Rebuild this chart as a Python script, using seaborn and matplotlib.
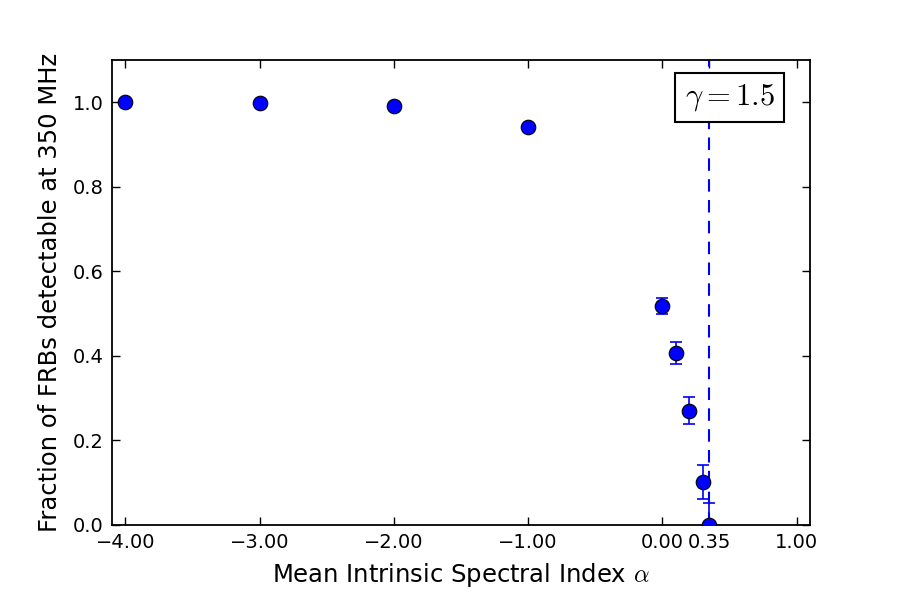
import matplotlib
matplotlib.use("Agg")
import matplotlib.pyplot as plt
import seaborn as sns
import pandas as pd

alpha = [-4.0, -3.0, -2.0, -1.0, 0.0, 0.1, 0.2, 0.3, 0.35]
fraction = [1.0, 0.998, 0.992, 0.941, 0.518, 0.406, 0.270, 0.102, 0.0]
err = [0.0, 0.0, 0.0, 0.0, 0.020, 0.026, 0.032, 0.040, 0.051]
xticks = [-4.0, -3.0, -2.0, -1.0, 0.0, 0.35, 1.0]
xticklabels = ["\u22124.00", "\u22123.00", "\u22122.00", "\u22121.00", "0.00", "0.35", "1.00"]
yticks = [0.0, 0.2, 0.4, 0.6, 0.8, 1.0]
alpha_max = 0.35

sns.set_style("ticks")
plt.rcParams['font.family'] = ['DejaVu Sans']
plt.rcParams['mathtext.fontset'] = 'cm'
plt.rcParams['text.color'] = 'black'
plt.rcParams['axes.labelcolor'] = 'black'
plt.rcParams['xtick.color'] = 'black'
plt.rcParams['ytick.color'] = 'black'

df = pd.DataFrame({"alpha": alpha, "fraction": fraction, "err": err})

fig = plt.figure(figsize=(9, 6), dpi=100)
ax = fig.add_axes([0.1245, 0.125, 0.7755, 0.775])

ax.errorbar(df["alpha"], df["fraction"], yerr=df["err"], fmt="none",
            ecolor="blue", elinewidth=1.2, capsize=4.5, capthick=1.2, zorder=2)
sns.scatterplot(data=df, x="alpha", y="fraction", ax=ax, s=110, color="blue",
                edgecolor="black", linewidth=0.8, zorder=3)
ax.axvline(alpha_max, color="blue", linestyle=(0, (6, 4)), linewidth=1.5, zorder=1)

ax.set_xlim(-4.1, 1.1)
ax.set_ylim(0.0, 1.1)
ax.set_xticks(xticks)
ax.set_xticklabels(xticklabels)
ax.set_yticks(yticks)
ax.set_yticklabels([f"{v:.1f}" for v in yticks])
ax.tick_params(direction="in", top=True, right=True, length=6, width=1,
               labelsize=14, pad=6, colors="black")
for sp in ax.spines.values():
    sp.set_linewidth(1.3)
    sp.set_color("black")

ax.set_xlabel(r"Mean Intrinsic Spectral Index $\alpha$", fontsize=17.5, labelpad=6)
ax.set_ylabel("Fraction of FRBs detectable at 350 MHz", fontsize=17.5, labelpad=8)

ax.text(0.949, 0.919, r"$\gamma = 1.5$", transform=ax.transAxes, ha="right", va="center",
        fontsize=22, bbox=dict(boxstyle="square,pad=0.3", facecolor="white",
                               edgecolor="black", linewidth=1.5), zorder=5)

fig.savefig("out.png", dpi=100)
